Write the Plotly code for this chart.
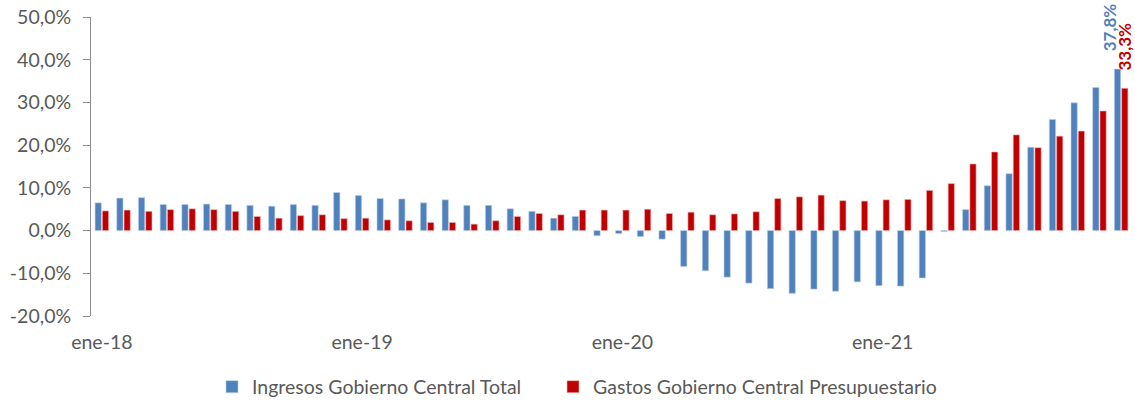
import plotly.graph_objects as go

meses_abr = ["ene", "feb", "mar", "abr", "may", "jun", "jul", "ago", "sep", "oct", "nov", "dic"]
anios = ["18", "19", "20", "21"]
meses = [f"{m}-{a}" for a in anios for m in meses_abr]

ingresos = [6.5, 7.6, 7.7, 6.1, 6.1, 6.2, 6.1, 5.9, 5.7, 6.1, 5.9, 8.9,
            8.2, 7.5, 7.4, 6.5, 7.2, 5.9, 5.9, 5.1, 4.5, 2.9, 3.3, -1.2,
            -0.7, -1.4, -2.0, -8.4, -9.4, -10.9, -12.3, -13.6, -14.7, -13.7, -14.2, -12.0,
            -12.9, -13.0, -11.1, -0.2, 4.9, 10.5, 13.3, 19.5, 26.0, 29.9, 33.5, 37.8]
gastos = [4.6, 4.8, 4.5, 4.9, 5.1, 4.9, 4.5, 3.3, 2.9, 3.5, 3.7, 2.8,
          2.9, 2.5, 2.3, 1.9, 1.9, 1.5, 2.3, 3.3, 4.0, 3.7, 4.8, 4.8,
          4.8, 5.0, 4.0, 4.3, 3.7, 3.9, 4.4, 7.5, 7.9, 8.3, 7.0, 6.9,
          7.2, 7.3, 9.4, 11.0, 15.6, 18.4, 22.4, 19.4, 22.1, 23.3, 28.0, 33.3]
y_ticks = [-20, -10, 0, 10, 20, 30, 40, 50]

AZUL = "#4F81BD"
ROJO = "#C00000"
GRIS = "#595959"
EJE = "#8C8C8C"
FONT = "Lato"
FS = 19.5


def pct(v):
    return f"{v:.1f}".replace(".", ",") + "%"


x = list(range(len(meses)))
ene_idx = [i for i, m in enumerate(meses) if m.startswith("ene")]
ene_lbl = [meses[i] for i in ene_idx]
bordes = [i - 0.5 for i in ene_idx] + [len(meses) - 0.5]

fig = go.Figure()
fig.add_trace(go.Bar(
    x=x, y=ingresos, name="Ingresos Gobierno Central Total", legend="legend",
    showlegend=True,
    marker=dict(color=AZUL, line=dict(color="#B9CDE5", width=0.6)),
))
fig.add_trace(go.Bar(
    x=x, y=gastos, name="Gastos Gobierno Central Presupuestario", legend="legend2",
    showlegend=True,
    marker=dict(color=ROJO, line=dict(color="#F2B8B8", width=0.6)),
))

# data labels on the last month
for serie, color, dx, dy in [(ingresos, AZUL, -12, 16), (gastos, ROJO, 3, 16)]:
    fig.add_annotation(
        x=x[-1], y=serie[-1], text=pct(serie[-1]), textangle=-90,
        showarrow=False, xanchor="center", yanchor="bottom",
        xshift=dx, yshift=dy,
        font=dict(family=FONT, size=17, color=color, weight="bold"),
    )

ymin, ymax = y_ticks[0], y_ticks[-1]
leg_common = dict(
    orientation="h", xref="container", xanchor="left",
    yref="container", y=1 - 387 / 400, yanchor="middle", visible=True,
    font=dict(family=FONT, size=FS, color=GRIS), itemwidth=30,
)
fig.update_layout(
    width=1135, height=400,
    margin=dict(l=91, r=3, t=17, b=84),
    plot_bgcolor="white", paper_bgcolor="white",
    showlegend=True,
    barmode="group", bargap=0.33, bargroupgap=0.14,
    font=dict(family=FONT, size=FS, color=GRIS),
    xaxis=dict(
        range=[-0.5, len(meses) - 0.5], tickmode="array",
        tickvals=ene_idx, ticktext=ene_lbl, showline=False, showgrid=False,
        zeroline=False, ticks="", ticklabelstandoff=12,
        tickfont=dict(family=FONT, size=FS, color=GRIS),
    ),
    xaxis2=dict(
        overlaying="x", anchor="free", position=(0 - ymin) / (ymax - ymin),
        range=[-0.5, len(meses) - 0.5], tickmode="array", tickvals=bordes,
        showticklabels=False, ticks="outside", ticklen=6, tickcolor=EJE,
        showline=True, linecolor=EJE, linewidth=1.5, showgrid=False, zeroline=False,
    ),
    yaxis=dict(
        range=[ymin, ymax], tickmode="array", tickvals=y_ticks,
        ticktext=[pct(v) for v in y_ticks], showgrid=False, zeroline=False,
        showline=True, linecolor=EJE, linewidth=1,
        ticks="outside", ticklen=7, tickcolor=EJE, ticklabelstandoff=8,
        tickfont=dict(family=FONT, size=FS, color=GRIS),
    ),
    legend=dict(x=212 / 1135, **leg_common),
    legend2=dict(x=553 / 1135, **leg_common),
)

fig.write_html(
    "out.html",
    config={"displayModeBar": False},
    post_script="document.body.style.margin='0';document.body.style.overflow='hidden';",
)
